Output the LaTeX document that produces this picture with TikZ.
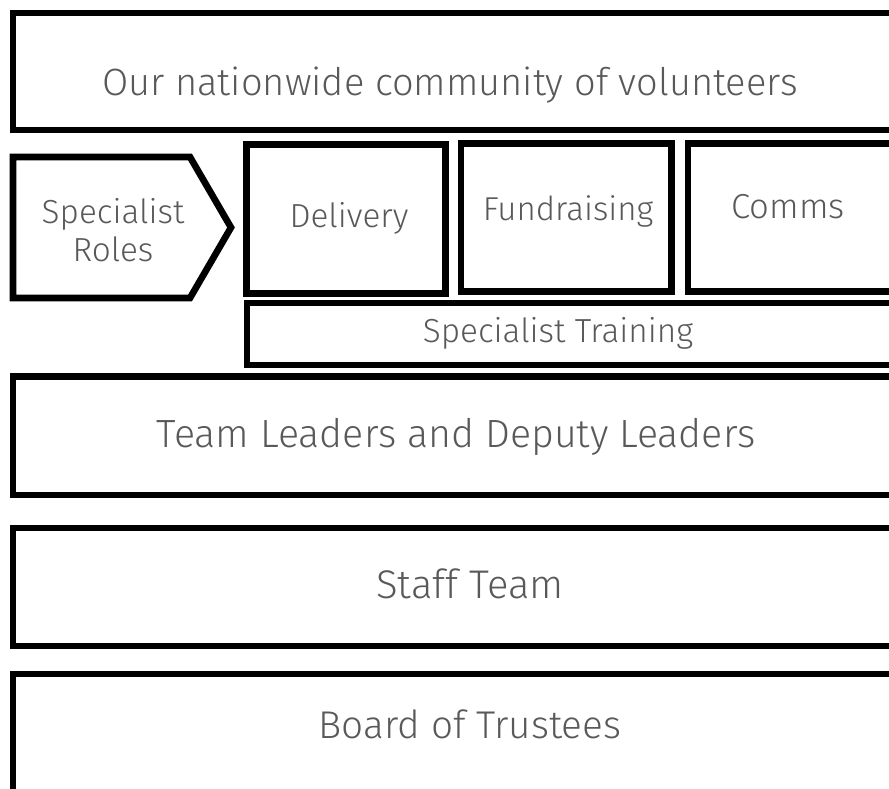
\documentclass[tikz,border=0pt]{standalone}
\usepackage{fontspec}
\setmainfont{Fira Sans Light}

% one unit of the grid, in pt
\def\u{0.75pt}

\tikzset{
  block/.style={draw=black, line width=5pt, rectangle, miter limit=10, inner sep=0pt},
  lbl/.style={anchor=base, text=black!65, inner sep=0pt},
}

\begin{document}
\begin{tikzpicture}[x=0.75pt, y=-0.75pt]
\useasboundingbox (0,0) rectangle (889,789);
\clip (0,0) rectangle (889,789);

% volunteers across the top
\node[block, minimum width=883*\u, minimum height=117*\u] (vol) at (454.5,71.5) {};
\node[lbl, font=\fontsize{28.5}{28.5}\selectfont] (volt) at (450,95) {Our nationwide community of volunteers};

% specialist roles
\draw[line width=5pt, miter limit=10] (13,157) -- (190,157) -- (231,227.5) -- (190,298) -- (13,298) -- cycle;
\node[anchor=center, align=center, text=black!65, font=\fontsize{25}{28.5}\selectfont] (roles) at (113,230) {Specialist\\Roles};

\node[block, minimum width=199*\u, minimum height=149*\u] (del) at (346,219) {};
\node[lbl, font=\fontsize{25}{25}\selectfont] (delt) at (349,227) {Delivery};

\node[block, minimum width=210.7*\u, minimum height=148.4*\u] (fund) at (566.3,217.5) {};
\node[lbl, font=\fontsize{24.8}{24.8}\selectfont] (fundt) at (568,220) {Fundraising};

\node[block, minimum width=207.7*\u, minimum height=148*\u] (comms) at (792,217.5) {};
\node[lbl, font=\fontsize{26}{26}\selectfont] (commst) at (788,218) {Comms};

\node[block, minimum width=649*\u, minimum height=61.7*\u] (train) at (571.5,334) {};
\node[lbl, font=\fontsize{25}{25}\selectfont] (traint) at (558,342) {Specialist Training};

% leadership layers
\node[block, minimum width=883*\u, minimum height=118.5*\u] (team) at (454.5,435.75) {};
\node[lbl, font=\fontsize{29.5}{29.5}\selectfont] (teamt) at (456,447) {Team Leaders and Deputy Leaders};

\node[block, minimum width=883*\u, minimum height=118*\u] (staff) at (454.5,587) {};
\node[lbl, font=\fontsize{30}{30}\selectfont] (stafft) at (470,598) {Staff Team};

\node[block, minimum width=883*\u, minimum height=121*\u] (board) at (454.5,734.5) {};
\node[lbl, font=\fontsize{29}{29}\selectfont] (boardt) at (470,738) {Board of Trustees};
\end{tikzpicture}
\end{document}
